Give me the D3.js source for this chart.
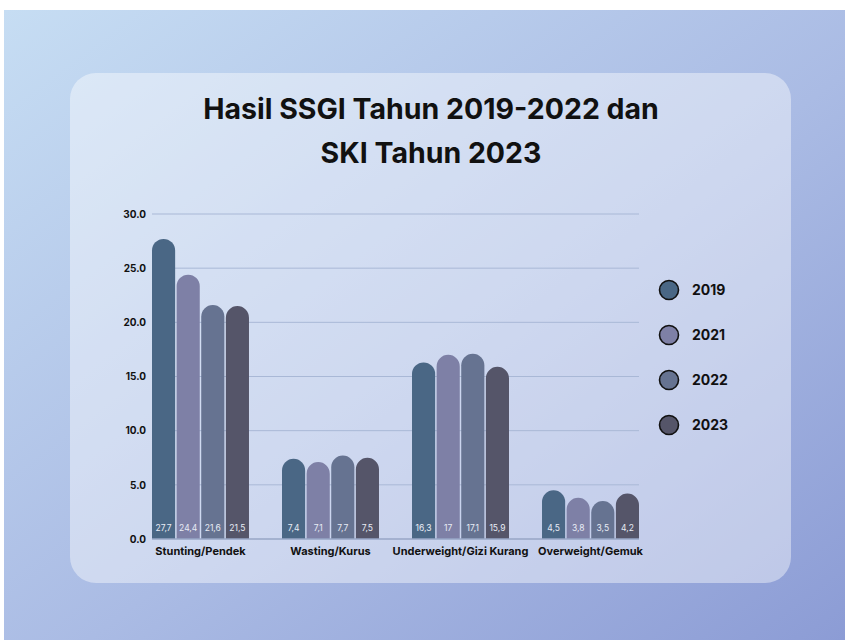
<!DOCTYPE html>
<html>
<head>
<meta charset="utf-8">
<script src="https://cdn.jsdelivr.net/npm/d3@7"></script>
<style>
  body { margin: 0; background: #fff; }
  svg { display: block; font-family: Inter, "Open Sans", sans-serif; }
</style>
</head>
<body>
<div id="chart"></div>
<script>
// data
const categories = ["Stunting/Pendek", "Wasting/Kurus", "Underweight/Gizi Kurang", "Overweight/Gemuk"];
const years = ["2019", "2021", "2022", "2023"];
const values2019 = [27.7, 7.4, 16.3, 4.5];
const values2021 = [24.4, 7.1, 17, 3.8];
const values2022 = [21.6, 7.7, 17.1, 3.5];
const values2023 = [21.5, 7.5, 15.9, 4.2];
const yTicks = [0, 5, 10, 15, 20, 25, 30];

const seriesValues = [values2019, values2021, values2022, values2023];
const rows = categories.map((c, i) => ({
  category: c,
  bars: years.map((yr, j) => ({year: yr, value: seriesValues[j][i]}))
}));

const W = 845, H = 640;
const svg = d3.select("#chart").append("svg")
  .attr("width", W).attr("height", H);

// background gradients
const defs = svg.append("defs");
const bg = defs.append("linearGradient").attr("id", "bg")
  .attr("x1", "0%").attr("y1", "0%").attr("x2", "100%").attr("y2", "100%");
bg.append("stop").attr("offset", "0%").attr("stop-color", "#c6ddf3");
bg.append("stop").attr("offset", "55%").attr("stop-color", "#aabbe4");
bg.append("stop").attr("offset", "100%").attr("stop-color", "#8c9cd5");

svg.append("rect")
  .attr("x", 4).attr("y", 10)
  .attr("width", W - 4).attr("height", H - 10)
  .attr("fill", "url(#bg)");

// card
svg.append("rect")
  .attr("x", 70).attr("y", 73)
  .attr("width", 721).attr("height", 510)
  .attr("rx", 26)
  .attr("fill", "#ffffff")
  .attr("fill-opacity", 0.42);

// title
const title = svg.append("text")
  .attr("text-anchor", "middle")
  .attr("font-weight", 700)
  .attr("font-size", 28.5)
  .attr("fill", "#111");
title.append("tspan").attr("x", 431).attr("y", 119).text("Hasil SSGI Tahun 2019-2022 dan");
title.append("tspan").attr("x", 431).attr("y", 163).text("SKI Tahun 2023");

// scales
const x0 = d3.scaleBand()
  .domain(categories)
  .range([152, 639])
  .paddingInner(0.254)
  .paddingOuter(0);

const x1 = d3.scaleBand()
  .domain(years)
  .range([0, x0.bandwidth()])
  .paddingInner(0.06);

const y = d3.scaleLinear()
  .domain([0, 30])
  .range([539, 214]);

const color = d3.scaleOrdinal()
  .domain(years)
  .range(["#4a6785", "#7e80a6", "#667391", "#555569"]);

// grid
svg.append("g")
  .selectAll("line")
  .data(yTicks.filter(d => d > 0))
  .join("line")
  .attr("x1", 152).attr("x2", 639)
  .attr("y1", d => y(d)).attr("y2", d => y(d))
  .attr("stroke", "#a9b8d6")
  .attr("stroke-width", 1);

// y axis
const yAxis = svg.append("g")
  .attr("transform", "translate(152,0)")
  .call(d3.axisLeft(y).tickValues(yTicks).tickFormat(d3.format(".1f")).tickSize(0).tickPadding(6));
yAxis.select(".domain").remove();
yAxis.selectAll("text")
  .attr("font-family", "Inter, sans-serif")
  .attr("font-size", 10)
  .attr("font-weight", 700)
  .attr("fill", "#111");

// bars with rounded top
function barPath(x, yTop, w, base) {
  const r = w / 2;
  const yt = Math.min(yTop + r, base);
  return `M${x},${base}L${x},${yt}A${r},${r} 0 0 1 ${x + w},${yt}L${x + w},${base}Z`;
}

const groups = svg.append("g")
  .selectAll("g")
  .data(rows)
  .join("g")
  .attr("transform", d => `translate(${x0(d.category)},0)`);

groups.selectAll("path")
  .data(d => d.bars)
  .join("path")
  .attr("d", d => barPath(x1(d.year), y(d.value), x1.bandwidth(), y(0)))
  .attr("fill", d => color(d.year));

groups.selectAll("text.val")
  .data(d => d.bars)
  .join("text")
  .attr("class", "val")
  .attr("x", d => x1(d.year) + x1.bandwidth() / 2)
  .attr("y", y(0) - 8)
  .attr("text-anchor", "middle")
  .attr("font-size", 8.5)
  .attr("fill", "#e8ecf5")
  .text(d => String(d.value).replace(".", ","));

// baseline
svg.append("line")
  .attr("x1", 152).attr("x2", 639)
  .attr("y1", y(0)).attr("y2", y(0))
  .attr("stroke", "#97a6c6")
  .attr("stroke-width", 1.5);

// x axis labels
const xAxis = svg.append("g")
  .attr("transform", `translate(0,${y(0)})`)
  .call(d3.axisBottom(x0).tickSize(0).tickPadding(8));
xAxis.select(".domain").remove();
xAxis.selectAll("text")
  .attr("font-family", "Inter, sans-serif")
  .attr("font-size", 11)
  .attr("font-weight", 700)
  .attr("fill", "#111");

// legend
const legend = svg.append("g")
  .selectAll("g")
  .data(years)
  .join("g")
  .attr("transform", (d, i) => `translate(669,${290 + i * 45})`);

legend.append("circle")
  .attr("r", 9.5)
  .attr("fill", d => color(d))
  .attr("stroke", "#111")
  .attr("stroke-width", 1.6);

legend.append("text")
  .attr("x", 23)
  .attr("dy", "0.35em")
  .attr("font-size", 14)
  .attr("font-weight", 700)
  .attr("fill", "#111")
  .text(d => d);
</script>
</body>
</html>
